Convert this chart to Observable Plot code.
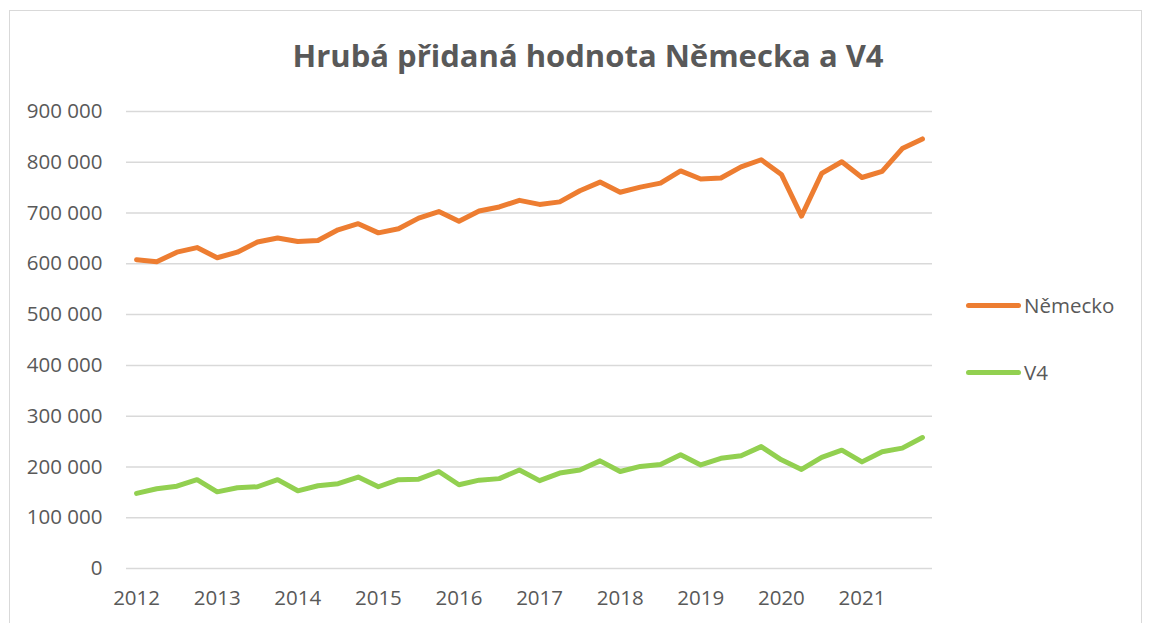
<!DOCTYPE html>
<html>
<head>
<meta charset="utf-8">
<script src="https://cdn.jsdelivr.net/npm/d3@7"></script>
<script src="https://cdn.jsdelivr.net/npm/@observablehq/plot@0.6"></script>
<style>
  html, body { margin: 0; padding: 0; background: #fff; }
  body { width: 1152px; height: 623px; position: relative; overflow: hidden; font-family: "Open Sans", sans-serif; }
  #frame { position: absolute; left: 9px; top: 10px; width: 1133px; height: 640px; border: 1px solid #d9d9d9; box-sizing: border-box; }
  #title { position: absolute; left: 0; width: 1176px; top: 34px; text-align: center; font-size: 31px; font-weight: bold; color: #595959; }
  #chart { position: absolute; left: 0; top: 0; }
  .legend { position: absolute; left: 966px; font-size: 20.5px; color: #595959; display: flex; align-items: center; }
  .legend .sw { width: 55px; height: 5px; border-radius: 3px; margin-right: 3px; }
</style>
</head>
<body>
<div id="frame"></div>
<div id="title">Hrubá přidaná hodnota Německa a V4</div>
<div id="chart"></div>
<div class="legend" style="top:291px"><span class="sw" style="background:#ED7D31"></span>Německo</div>
<div class="legend" style="top:358px"><span class="sw" style="background:#92D050"></span>V4</div>
<script>
const years = [2012, 2013, 2014, 2015, 2016, 2017, 2018, 2019, 2020, 2021];
const quarters = ["Q1", "Q2", "Q3", "Q4"];
const nemecko = [
  608000, 604000, 623000, 632000,
  612000, 623000, 643000, 651000,
  644000, 646000, 667000, 679000,
  661000, 669000, 690000, 703000,
  684000, 704000, 712000, 725000,
  717000, 722000, 744000, 761000,
  741000, 751000, 759000, 783000,
  767000, 769000, 791000, 805000,
  776000, 694000, 778000, 801000,
  770000, 782000, 827000, 846000
];
const v4 = [
  148000, 157000, 162000, 175000,
  151000, 159000, 161000, 175000,
  153000, 163000, 167000, 180000,
  161000, 175000, 176000, 191000,
  165000, 174000, 177000, 194000,
  173000, 188000, 194000, 212000,
  191000, 201000, 205000, 224000,
  204000, 217000, 222000, 240000,
  214000, 195000, 219000, 233000,
  210000, 230000, 237000, 258000
];
const yTicks = [0, 100000, 200000, 300000, 400000, 500000, 600000, 700000, 800000, 900000];

const labels = years.flatMap(y => quarters.map(q => `${y} ${q}`));
const rows = [
  ...nemecko.map((v, i) => ({i, label: labels[i], series: "Německo", value: v})),
  ...v4.map((v, i) => ({i, label: labels[i], series: "V4", value: v}))
];
const xTicks = years.map((y, k) => k * 4);
const fmt = d => d3.format(",")(d).replace(/,/g, " ");

const chart = Plot.plot({
  width: 1152,
  height: 623,
  marginLeft: 126,
  marginRight: 220,
  marginTop: 111,
  marginBottom: 55,
  style: {fontFamily: "'Open Sans', sans-serif", fontSize: "20.5px", color: "#595959", background: "transparent"},
  x: {type: "linear", domain: [-0.5, nemecko.length - 0.5], ticks: xTicks, tickFormat: i => String(years[i / 4]), tickSize: 0, tickPadding: 22, label: null},
  y: {domain: [0, 900000], ticks: yTicks, tickFormat: fmt, tickSize: 0, tickPadding: 24, label: null},
  color: {domain: ["Německo", "V4"], range: ["#ED7D31", "#92D050"]},
  marks: [
    Plot.ruleY(yTicks, {stroke: "#d9d9d9", strokeWidth: 1.5}),
    Plot.line(rows, {x: "i", y: "value", z: "series", stroke: "series", strokeWidth: 5, strokeLinecap: "round", strokeLinejoin: "round"})
  ]
});
document.getElementById("chart").appendChild(chart);
</script>
</body>
</html>
